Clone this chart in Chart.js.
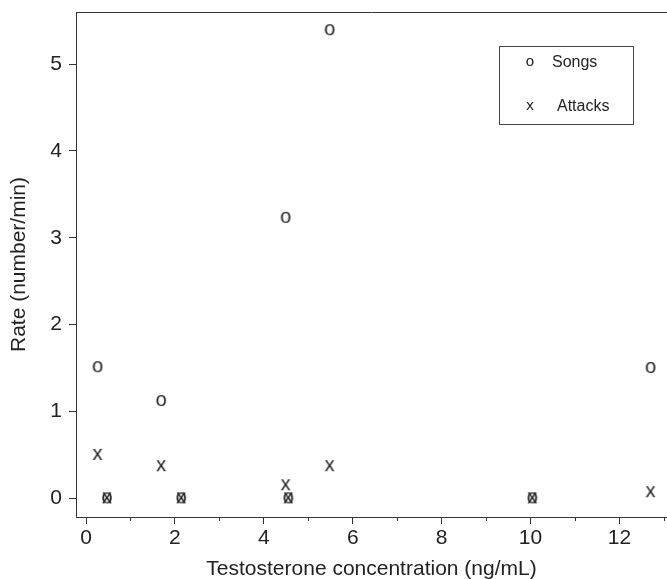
<!DOCTYPE html>
<html>
<head>
<meta charset="utf-8">
<script src="https://cdn.jsdelivr.net/npm/chart.js@4.4.1/dist/chart.umd.min.js"></script>
<style>
  body { margin: 0; background: #fff; }
  #wrap { width: 667px; height: 579px; }
</style>
</head>
<body>
<div id="wrap"><canvas id="chart" width="667" height="579"></canvas></div>
<script>
// values: one song rate and one attack rate per bird
const concentration = [0.26, 0.47, 1.69, 2.14, 4.49, 4.55, 5.48, 10.04, 12.70];
const songRates = [1.51, 0, 1.12, 0, 3.23, 0, 5.39, 0, 1.50];
const attackRates = [0.50, 0, 0.37, 0, 0.15, 0, 0.37, 0, 0.07];
const xTicks = [0, 2, 4, 6, 8, 10, 12];
const xMinorTicks = [1, 3, 5, 7, 9, 11, 13];
const yTicks = [0, 1, 2, 3, 4, 5];
const legendLabels = ['Songs', 'Attacks'];

const FONT = '"Liberation Sans", Arial, Helvetica, sans-serif';
const INK = '#222';

// the markers are plain letters, so draw them onto small canvases
function letterMarker(ch, size) {
  const c = document.createElement('canvas');
  c.width = 24;
  c.height = 24;
  const ctx = c.getContext('2d');
  ctx.fillStyle = INK;
  ctx.font = size + 'px ' + FONT;
  ctx.textAlign = 'center';
  ctx.textBaseline = 'alphabetic';
  ctx.fillText(ch, 12, 12 + size * 0.26);
  return c;
}
const oMark = letterMarker('o', 20);
const xMark = letterMarker('x', 20);

const toPoints = (ys) => concentration.map((x, i) => ({ x: x, y: ys[i] }));

const framePlugin = {
  id: 'frame',
  afterDraw(chart) {
    const ctx = chart.ctx;
    const area = chart.chartArea;
    const xs = chart.scales.x;
    ctx.save();
    ctx.strokeStyle = '#333';
    ctx.lineWidth = 1;
    // top edge of the box
    ctx.beginPath();
    ctx.moveTo(area.left, area.top + 0.5);
    ctx.lineTo(area.right, area.top + 0.5);
    ctx.stroke();
    // short minor ticks on the x axis
    xMinorTicks.forEach((v) => {
      const px = Math.round(xs.getPixelForValue(v)) + 0.5;
      ctx.beginPath();
      ctx.moveTo(px, area.bottom);
      ctx.lineTo(px, area.bottom + 4);
      ctx.stroke();
    });
    // legend box in the top right corner
    ctx.strokeStyle = '#444';
    ctx.strokeRect(499.5, 46.5, 134, 78);
    ctx.fillStyle = INK;
    ctx.textBaseline = 'middle';
    ctx.textAlign = 'center';
    ctx.font = '15px ' + FONT;
    ctx.fillText('o', 530, 62);
    ctx.fillText('x', 530, 106);
    ctx.textAlign = 'left';
    ctx.font = '16px ' + FONT;
    ctx.fillText(legendLabels[0], 552, 63);
    ctx.fillText(legendLabels[1], 557, 107);
    ctx.restore();
  }
};

new Chart(document.getElementById('chart'), {
  type: 'scatter',
  data: {
    datasets: [
      {
        label: legendLabels[0],
        data: toPoints(songRates),
        pointStyle: oMark,
        pointRadius: 10
      },
      {
        label: legendLabels[1],
        data: toPoints(attackRates),
        pointStyle: xMark,
        pointRadius: 10
      }
    ]
  },
  options: {
    responsive: false,
    animation: false,
    layout: { autoPadding: false, padding: { top: 12, right: 0, left: 0, bottom: 0 } },
    plugins: {
      legend: { display: false },
      tooltip: { enabled: false }
    },
    scales: {
      x: {
        type: 'linear',
        min: -0.225,
        max: 13.07,
        afterBuildTicks: (s) => { s.ticks = xTicks.map((v) => ({ value: v })); },
        afterFit: (s) => { s.height = 62; s.paddingLeft = 0; s.paddingRight = 0; },
        grid: { display: true, drawOnChartArea: false, drawTicks: true, tickLength: 7, color: '#333' },
        border: { display: true, color: '#333', width: 1 },
        ticks: { color: INK, font: { family: FONT, size: 21 }, padding: 2, maxRotation: 0 },
        title: {
          display: true,
          text: 'Testosterone concentration (ng/mL)',
          color: INK,
          font: { family: FONT, size: 21 },
          padding: { top: 0, bottom: -3 }
        }
      },
      y: {
        type: 'linear',
        min: -0.215,
        max: 5.6,
        afterBuildTicks: (s) => { s.ticks = yTicks.map((v) => ({ value: v })); },
        afterFit: (s) => { s.width = 76; s.paddingTop = 0; s.paddingBottom = 0; },
        grid: { display: true, drawOnChartArea: false, drawTicks: true, tickLength: 7, color: '#333' },
        border: { display: true, color: '#333', width: 1 },
        ticks: { color: INK, font: { family: FONT, size: 21 }, padding: 7 },
        title: {
          display: true,
          text: 'Rate (number/min)',
          color: INK,
          font: { family: FONT, size: 21 },
          padding: { top: 7, bottom: 0 }
        }
      }
    }
  },
  plugins: [framePlugin]
});
</script>
</body>
</html>
